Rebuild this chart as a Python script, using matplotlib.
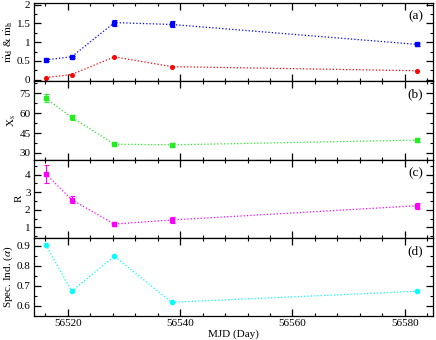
import matplotlib
matplotlib.use("Agg")
import matplotlib.pyplot as plt
from matplotlib.ticker import MultipleLocator

plt.rcParams['font.family'] = ['Liberation Serif', 'DejaVu Serif']
plt.rcParams['mathtext.fontset'] = 'stix'
plt.rcParams['font.size'] = 8

mjd = [56516.1, 56520.7, 56528.3, 56538.5, 56582.2]
mdot_d = [0.53, 0.61, 1.52, 1.47, 0.94]
mdot_d_err = [0.03, 0.03, 0.08, 0.08, 0.05]
mdot_h = [0.06, 0.14, 0.61, 0.35, 0.24]
mdot_h_err = [0.02, 0.02, 0.02, 0.02, 0.02]
xs = [71.2, 57.0, 36.6, 36.1, 39.7]
xs_err = [3.0, 2.0, 1.5, 1.5, 1.5]
rr = [4.04, 2.57, 1.19, 1.42, 2.23]
rr_err = [0.52, 0.2, 0.1, 0.17, 0.17]
alpha = [0.905, 0.672, 0.847, 0.617, 0.672]

fig, axes = plt.subplots(4, 1, sharex=True, figsize=(4.36, 3.40), dpi=100)
fig.subplots_adjust(left=0.078, right=0.993, top=0.990, bottom=0.0715, hspace=0)

ekw = dict(ls=':', lw=0.9, capsize=1.8, elinewidth=0.8, capthick=0.8, ms=2.6, marker='s')

ax = axes[0]
ax.errorbar(mjd, mdot_d, yerr=mdot_d_err, color='blue', **ekw)
ax.errorbar(mjd, mdot_h, yerr=mdot_h_err, color='red', **dict(ekw, marker='o', capsize=0))
ax.set_ylim(-0.045, 2.03)
ax.yaxis.set_minor_locator(MultipleLocator(0.25))
ax.set_yticks([0, 0.5, 1, 1.5, 2])
ax.set_yticklabels(['0', '0.5', '1', '1.5', '2'])
ax.set_ylabel(r'$\dot{\rm m}_{\rm d}$ & $\dot{\rm m}_{\rm h}$', labelpad=1)

ax = axes[1]
ax.errorbar(mjd, xs, yerr=xs_err, color='#22ee22', **ekw)
ax.set_ylim(25, 84)
ax.yaxis.set_major_locator(MultipleLocator(15))
ax.yaxis.set_minor_locator(MultipleLocator(7.5))
ax.set_ylabel(r'X$_{\rm s}$', labelpad=1)

ax = axes[2]
ax.errorbar(mjd, rr, yerr=rr_err, color='magenta', **ekw)
ax.set_ylim(0.42, 4.85)
ax.yaxis.set_major_locator(MultipleLocator(1))
ax.yaxis.set_minor_locator(MultipleLocator(0.5))
ax.set_ylabel('R', labelpad=1)

ax = axes[3]
ax.plot(mjd, alpha, color='cyan', ls=':', lw=0.9, marker='o', ms=3.0)
ax.set_ylim(0.55, 0.94)
ax.yaxis.set_major_locator(MultipleLocator(0.1))
ax.yaxis.set_minor_locator(MultipleLocator(0.05))
ax.set_ylabel(r'Spec. Ind. ($\alpha$)', labelpad=1)
ax.set_xlabel('MJD (Day)', labelpad=1)

labels = ['(a)', '(b)', '(c)', '(d)']
for ax, lab in zip(axes, labels):
    ax.set_xlim(56514, 56585)
    ax.xaxis.set_major_locator(MultipleLocator(20))
    ax.xaxis.set_minor_locator(MultipleLocator(4))
    ax.tick_params(which='both', direction='in', top=True, right=True, labelsize=8, pad=2.5)
    ax.tick_params(which='major', length=5, width=0.9)
    ax.tick_params(which='minor', length=2.5, width=0.8)
    for s in ax.spines.values():
        s.set_linewidth(0.9)
    ax.text(0.975, 0.83, lab, transform=ax.transAxes, ha='right', va='center', fontsize=9.5)

fig.savefig('out.png', dpi=100)
